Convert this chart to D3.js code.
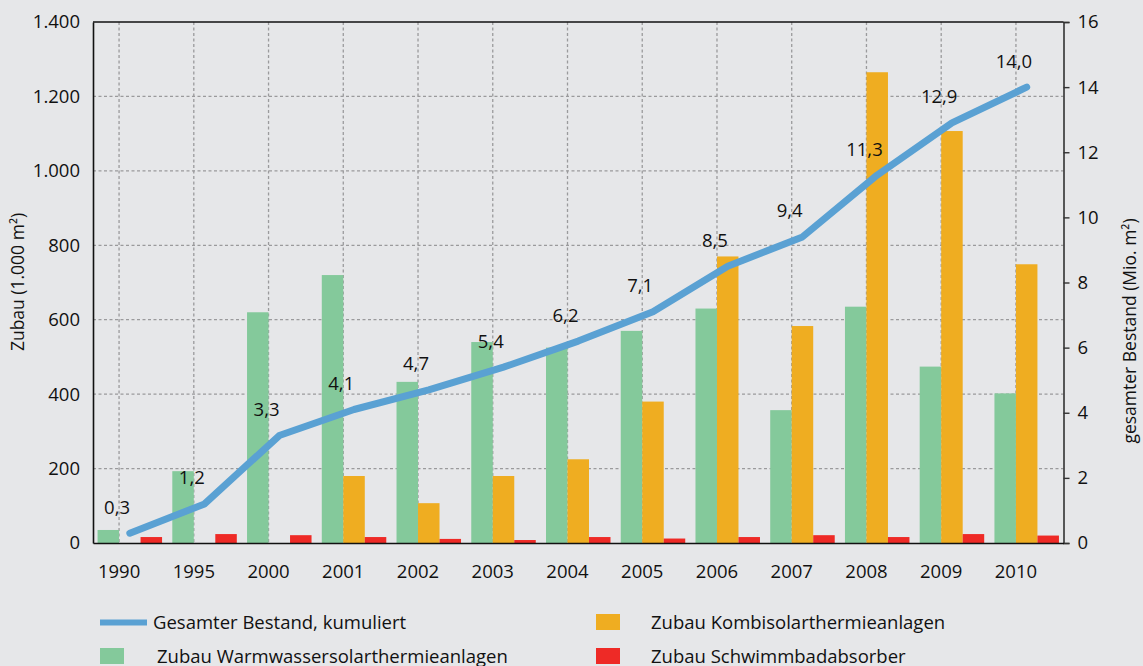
<!DOCTYPE html>
<html><head><meta charset="utf-8">
<script src="https://cdn.jsdelivr.net/npm/d3@7"></script>
<style>
html,body{margin:0;padding:0;background:#e6e7e9;}
svg{display:block;font-family:"Open Sans","Noto Sans",sans-serif;}
</style></head>
<body><svg id="c" width="1143" height="666"></svg>
<script>
const years = ["1990","1995","2000","2001","2002","2003","2004","2005","2006","2007","2008","2009","2010"];
const warmwasser = [35,193,620,720,433,540,525,570,630,357,635,474,402];
const kombi = [0,0,0,180,107,180,225,380,770,583,1265,1107,749];
const schwimmbad = [16,24,21,16,11,8,16,12,16,21,16,24,20];
const bestand = [0.3,1.2,3.3,4.1,4.7,5.4,6.2,7.1,8.5,9.4,11.3,12.9,14.0];
const bestandLabels = ["0,3","1,2","3,3","4,1","4,7","5,4","6,2","7,1","8,5","9,4","11,3","12,9","14,0"];
const leftTicks = [0,200,400,600,800,1000,1200,1400];
const rightTicks = [0,2,4,6,8,10,12,14,16];
const seriesNames = ["Zubau Warmwassersolarthermieanlagen","Zubau Kombisolarthermieanlagen","Zubau Schwimmbadabsorber"];
const lineName = "Gesamter Bestand, kumuliert";
const colors = {w:"#84c99b", k:"#efad21", s:"#ee2a26", line:"#5aa1d3"};

const svg = d3.select("#c");
const L = 93, R = 1063.5, T = 22, B = 543;
const fmt = d => d3.format(",")(d).replace(/,/g,".");

const x = d3.scaleBand().domain(years).range([L,R]).paddingInner(0.137).paddingOuter(0.061);
const bw = x.bandwidth();
const keys = ["w","k","s"];
const xs = d3.scaleBand().domain(keys).range([0,bw]);
const yL = d3.scaleLinear().domain([0,1400]).range([B,T]);
const yR = d3.scaleLinear().domain([0,16]).range([B,T]);
const tickX = d => x(d) + bw/3;

// grid
const g = svg.append("g");
g.selectAll("line.h").data(leftTicks.filter(t=>t>0 && t<1400)).enter().append("line")
  .attr("x1",L).attr("x2",R).attr("y1",d=>yL(d)).attr("y2",d=>yL(d))
  .attr("stroke","#9a9a9c").attr("stroke-width",1.3).attr("stroke-dasharray","3,2.5");
g.selectAll("line.v").data(years).enter().append("line")
  .attr("x1",tickX).attr("x2",tickX).attr("y1",T).attr("y2",B)
  .attr("stroke","#9a9a9c").attr("stroke-width",1.3).attr("stroke-dasharray","3,2.5");

// bars
const data = years.map((y,i)=>({year:y, w:warmwasser[i], k:kombi[i], s:schwimmbad[i]}));
const bars = svg.append("g");
data.forEach(d=>{
  keys.forEach(k=>{
    if(d[k]<=0) return;
    bars.append("rect").attr("x",x(d.year)+xs(k)).attr("width",xs.bandwidth())
      .attr("y",yL(d[k])).attr("height",B-yL(d[k])).attr("fill",colors[k]);
  });
});

// axes
const axL = svg.append("g").attr("transform",`translate(${L},0)`)
  .call(d3.axisLeft(yL).tickValues(leftTicks).tickFormat(fmt).tickSize(0).tickPadding(13));
axL.select(".domain").attr("stroke","#111").attr("stroke-width",1.6);
axL.selectAll("text").attr("font-size",18.5).attr("fill","#111").attr("font-family","Open Sans");

const axR = svg.append("g").attr("transform",`translate(${R},0)`)
  .call(d3.axisRight(yR).tickValues(rightTicks).tickSize(6).tickPadding(8));
axR.select(".domain").attr("stroke","#333").attr("stroke-width",1.6);
axR.selectAll(".tick line").attr("stroke","#333").attr("stroke-width",1.4);
axR.selectAll("text").attr("font-size",18.5).attr("fill","#111").attr("font-family","Open Sans");

const axB = svg.append("g").attr("transform",`translate(0,${B})`)
  .call(d3.axisBottom(x).tickSize(0).tickPadding(22));
axB.selectAll(".tick").attr("transform",d=>`translate(${tickX(d)},0)`);
axB.select(".domain").attr("stroke","#111").attr("stroke-width",1.6);
axB.selectAll("text").attr("font-size",18.5).attr("fill","#111").attr("font-family","Open Sans");

// top border
svg.append("line").attr("x1",L).attr("x2",R).attr("y1",T).attr("y2",T).attr("stroke","#111").attr("stroke-width",1.6);

// line
const line = d3.line().x((d,i)=>x(years[i])+bw/2).y(d=>yR(d));
svg.append("path").datum(bestand).attr("d",line).attr("fill","none")
  .attr("stroke",colors.line).attr("stroke-width",7).attr("stroke-linecap","round").attr("stroke-linejoin","round");

svg.append("g").selectAll("text").data(bestand).enter().append("text")
  .attr("x",(d,i)=>tickX(years[i])-2).attr("y",d=>yR(d)-19.5)
  .attr("text-anchor","middle").attr("font-size",18.5).attr("fill","#111").text((d,i)=>bestandLabels[i]);

// axis titles
svg.append("text").attr("transform",`translate(24,282) rotate(-90)`).attr("text-anchor","middle")
  .attr("font-size",17.5).attr("fill","#111").text("Zubau (1.000 m²)");
svg.append("text").attr("transform",`translate(1136,331) rotate(-90)`).attr("text-anchor","middle")
  .attr("font-size",17.5).attr("fill","#111").text("gesamter Bestand (Mio. m²)");

// legend
const lg = svg.append("g").attr("font-size",18.5).attr("fill","#111");
lg.append("line").attr("x1",100).attr("x2",147).attr("y1",622.5).attr("y2",622.5).attr("stroke",colors.line).attr("stroke-width",6);
lg.append("text").attr("x",153).attr("y",628.5).text(lineName);
lg.append("rect").attr("x",100).attr("y",648).attr("width",24).attr("height",16).attr("fill",colors.w);
lg.append("text").attr("x",157).attr("y",662.5).text(seriesNames[0]);
lg.append("rect").attr("x",596).attr("y",614).attr("width",24).attr("height",16).attr("fill",colors.k);
lg.append("text").attr("x",651).attr("y",628.5).text(seriesNames[1]);
lg.append("rect").attr("x",596).attr("y",648).attr("width",24).attr("height",16).attr("fill",colors.s);
lg.append("text").attr("x",651).attr("y",662.5).text(seriesNames[2]);
</script></body></html>
